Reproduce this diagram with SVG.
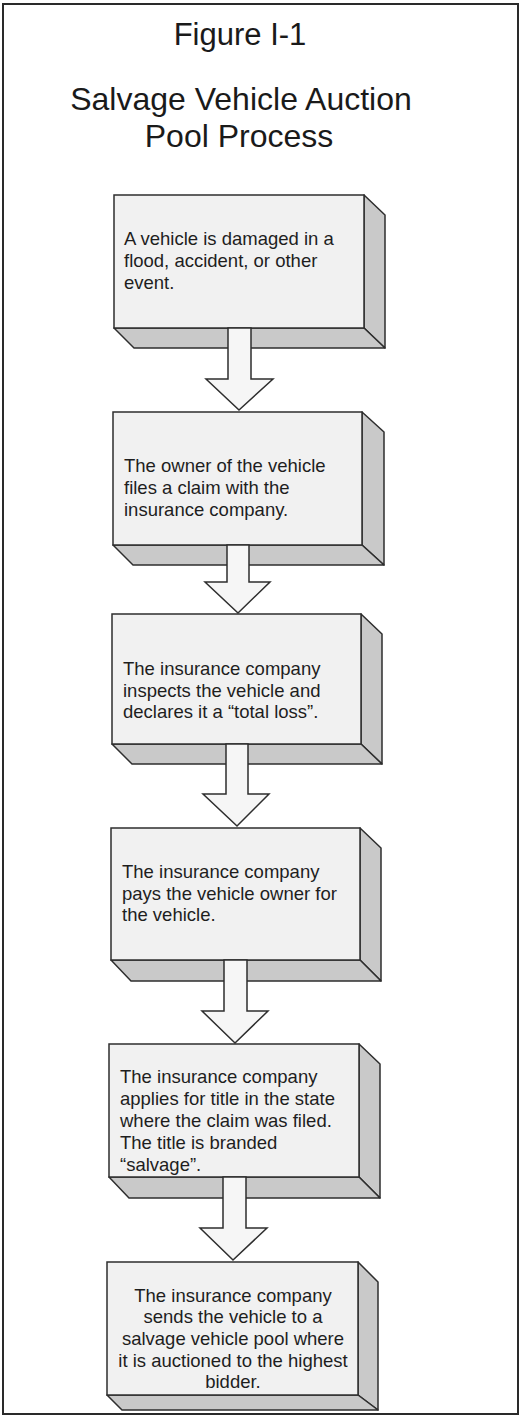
<svg xmlns="http://www.w3.org/2000/svg" width="523" height="1418" viewBox="0 0 523 1418">
<style>
.frame{fill:#ffffff;stroke:#2a2a2a;stroke-width:2}
.title{font-family:"Liberation Sans",Arial,sans-serif;fill:#1a1a1a;text-anchor:middle}
.front{fill:#f1f1f1;stroke:#2e2e2e;stroke-width:1.5}
.face{fill:#c9c9c9;stroke:#2e2e2e;stroke-width:1.5;stroke-linejoin:round}
.txt{font-family:"Liberation Sans",Arial,sans-serif;font-size:18.5px;fill:#1e1e1e}
.arrow{fill:#f6f6f6;stroke:#2e2e2e;stroke-width:1.5;stroke-linejoin:miter}
</style>
<rect class="frame" x="3" y="4" width="515" height="1410"/>
<g id="title">
<text class="title" x="240" y="45" font-size="31">Figure I-1</text>
<text class="title" x="241" y="110" font-size="32">Salvage Vehicle Auction</text>
<text class="title" x="239" y="147" font-size="32">Pool Process</text>
</g>
<g id="node1">
<polygon class="face" points="364,195 385,215 385,348 364,328"/>
<polygon class="face" points="114,328 364,328 385,348 134,348"/>
<rect class="front" x="114" y="195" width="250" height="133"/>
<text class="txt" x="124" y="245">A vehicle is damaged in a</text>
<text class="txt" x="124" y="267">flood, accident, or other</text>
<text class="txt" x="124" y="289">event.</text>
</g>
<g id="node2">
<polygon class="face" points="362,412 384,432 384,565 362,545"/>
<polygon class="face" points="113,545 362,545 384,565 133,565"/>
<rect class="front" x="113" y="412" width="249" height="133"/>
<text class="txt" x="124" y="472">The owner of the vehicle</text>
<text class="txt" x="124" y="494">files a claim with the</text>
<text class="txt" x="124" y="516">insurance company.</text>
</g>
<g id="node3">
<polygon class="face" points="361,614 382,634 382,764 361,744"/>
<polygon class="face" points="112,744 361,744 382,764 132,764"/>
<rect class="front" x="112" y="614" width="249" height="130"/>
<text class="txt" x="123" y="675">The insurance company</text>
<text class="txt" x="123" y="697">inspects the vehicle and</text>
<text class="txt" x="123" y="718">declares it a “total loss”.</text>
</g>
<g id="node4">
<polygon class="face" points="360,828 381,848 381,981 360,960"/>
<polygon class="face" points="111,960 360,960 381,981 131,981"/>
<rect class="front" x="111" y="828" width="249" height="132"/>
<text class="txt" x="122" y="878">The insurance company</text>
<text class="txt" x="122" y="900">pays the vehicle owner for</text>
<text class="txt" x="122" y="921">the vehicle.</text>
</g>
<g id="node5">
<polygon class="face" points="359,1044 380,1064 380,1198 359,1177"/>
<polygon class="face" points="109,1177 359,1177 380,1198 129,1198"/>
<rect class="front" x="109" y="1044" width="250" height="133"/>
<text class="txt" x="120" y="1083">The insurance company</text>
<text class="txt" x="120" y="1105">applies for title in the state</text>
<text class="txt" x="120" y="1127">where the claim was filed.</text>
<text class="txt" x="120" y="1149">The title is branded</text>
<text class="txt" x="120" y="1171">“salvage”.</text>
</g>
<g id="node6">
<polygon class="face" points="358,1262 378,1282 378,1410 358,1395"/>
<polygon class="face" points="107,1395 358,1395 378,1410 122,1410"/>
<rect class="front" x="107" y="1262" width="251" height="133"/>
<g class="txt" text-anchor="middle">
<text x="233" y="1302">The insurance company</text>
<text x="233" y="1323">sends the vehicle to a</text>
<text x="233" y="1345">salvage vehicle pool where</text>
<text x="233" y="1367">it is auctioned to the highest</text>
<text x="233" y="1388">bidder.</text>
</g>
</g>
<g id="connectors">
<polygon class="arrow" points="228,328 251,328 251,379 273,379 239,410 206,379 228,379"/>
<polygon class="arrow" points="227,545 249,545 249,582 270,582 238,613 205,582 227,582"/>
<polygon class="arrow" points="226,744 248,744 248,794 269,794 237,826 203,794 226,794"/>
<polygon class="arrow" points="224,960 247,960 247,1011 268,1011 235,1043 202,1011 224,1011"/>
<polygon class="arrow" points="223,1177 246,1177 246,1228 267,1228 233,1260 200,1228 223,1228"/>
</g>
</svg>
